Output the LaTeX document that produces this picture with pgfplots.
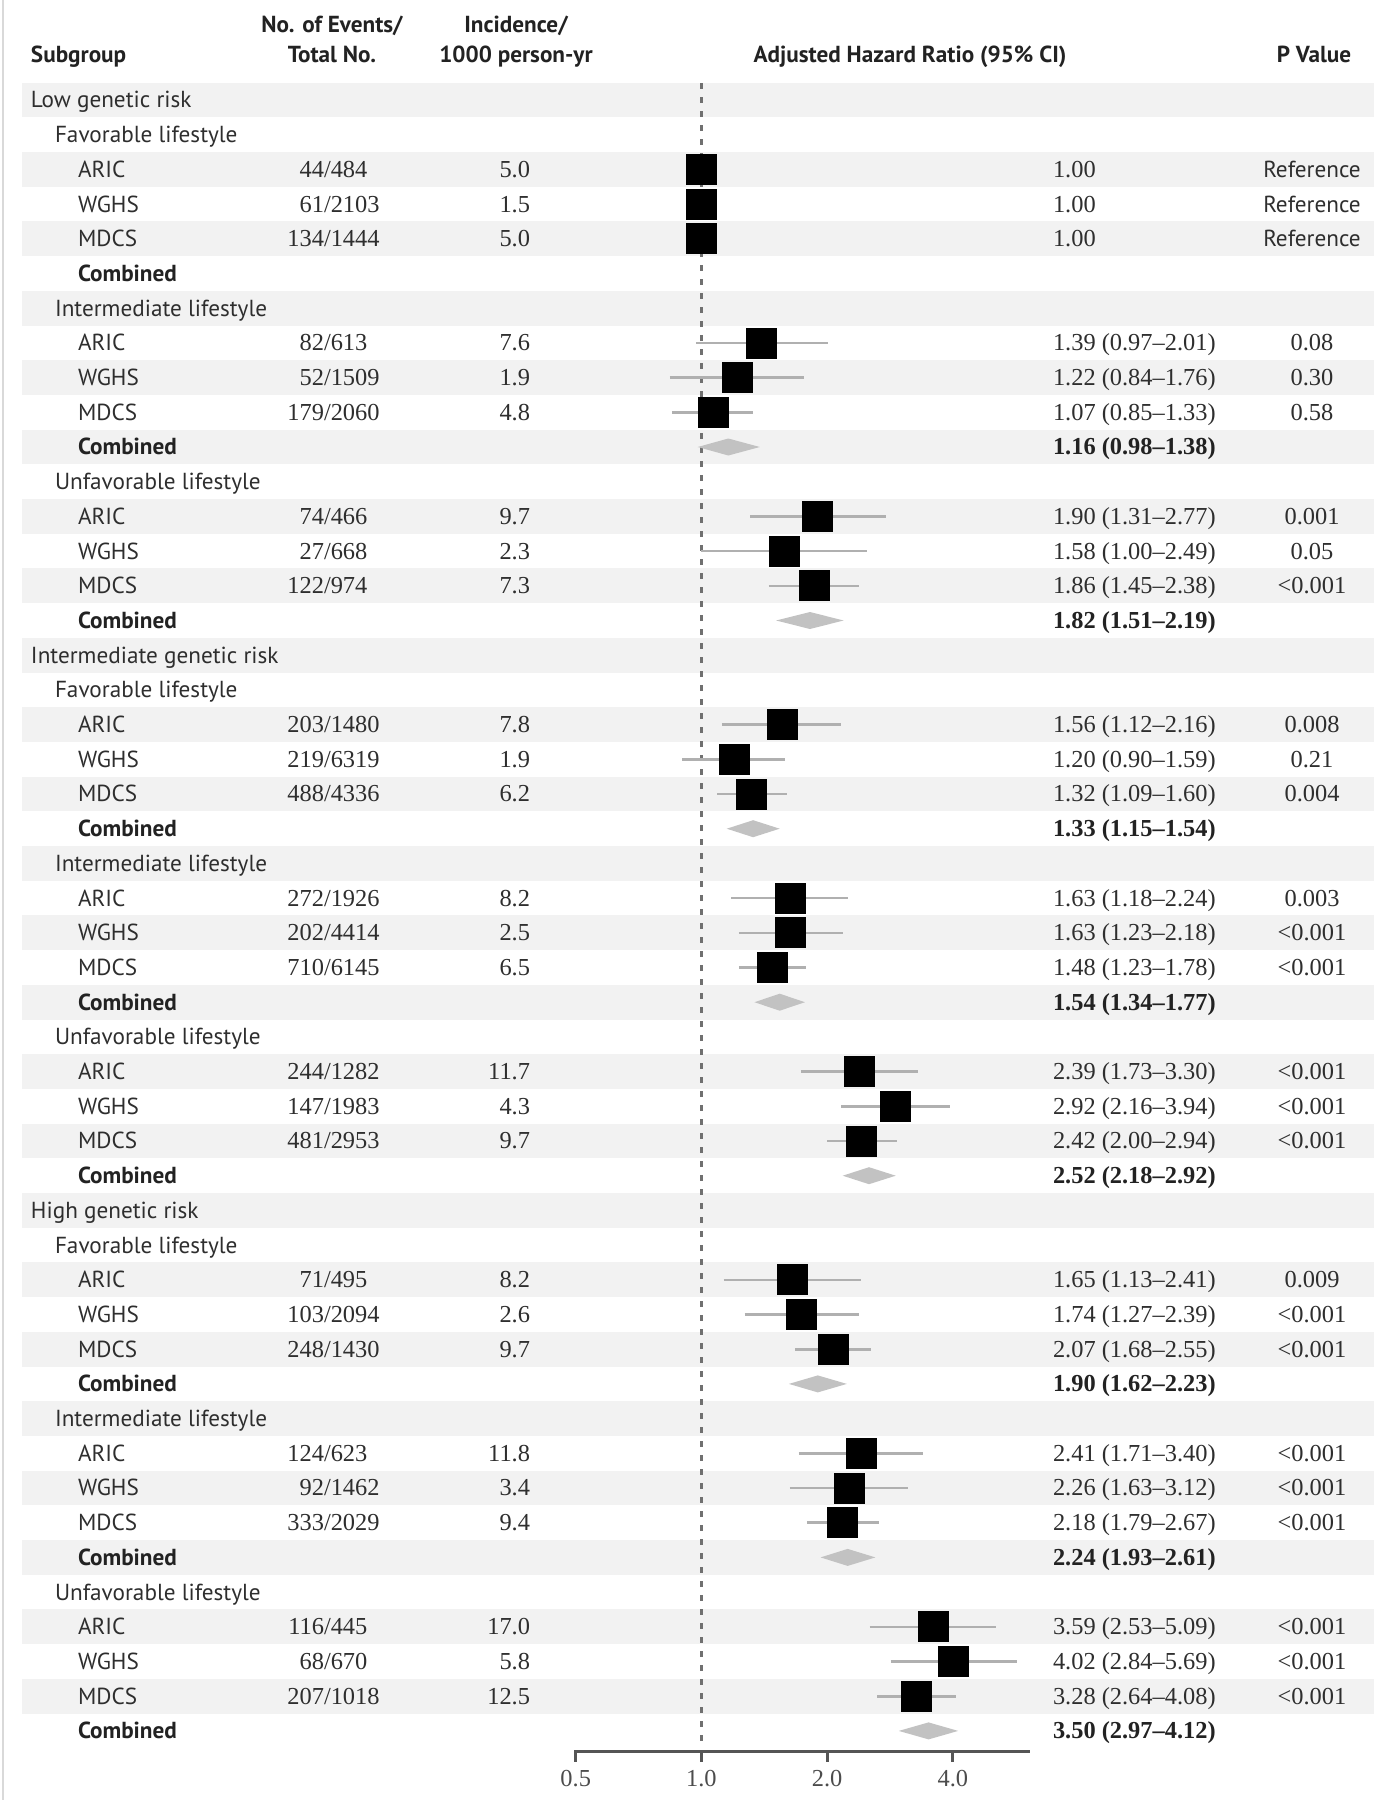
\documentclass[border=0pt]{standalone}
\usepackage{pgfplots}
\pgfplotsset{compat=1.18}
\usepackage{pgfplotstable}
\usepackage{fontspec}
\setmainfont{Liberation Serif}
\newfontfamily\sans{PT Sans}
\definecolor{band}{HTML}{F2F2F2}
\definecolor{txt}{HTML}{2E2E2E}
\definecolor{txtb}{HTML}{222222}
\definecolor{cigray}{HTML}{B0B0B0}
\definecolor{dia}{HTML}{C2C2C2}
\definecolor{axisgray}{HTML}{555555}
\definecolor{dashgray}{HTML}{707070}
\newcommand{\fs}{\fontsize{12.2}{14}\selectfont}
\newcommand{\fss}{\fontsize{11.6}{14}\selectfont}
\tikzset{t/.style={inner sep=0pt, outer sep=0pt, text=txt, font=\fs}}
\newcommand{\by}[1]{100+34.7*#1+8}
% row, label, events, total, incidence, HR text, P
\newcommand{\study}[7]{%
 \node[t,anchor=base west,font=\fss\sans] at (78,{\by{#1}}) {#2};
 \node[t,anchor=base east] at (324,{\by{#1}}) {#3};
 \node[t,anchor=base west] at (324,{\by{#1}}) {/#4};
 \node[t,anchor=base east] at (530,{\by{#1}}) {#5};
 \node[t,anchor=base west] at (1053,{\by{#1}}) {#6};
 \node[t,anchor=base] at (1312,{\by{#1}}) {#7};}
\newcommand{\comb}[2]{%
 \node[t,anchor=base west,font=\fss\sans\bfseries,text=txtb] at (78,{\by{#1}}) {Combined};
 \node[t,anchor=base west,font=\fs\bfseries,text=txtb] at (1053,{\by{#1}}) {#2};}
\newcommand{\grp}[2]{\node[t,anchor=base west,font=\fss\sans] at (31,{\by{#1}}) {#2};}
\newcommand{\life}[2]{\node[t,anchor=base west,font=\fss\sans] at (55,{\by{#1}}) {#2};}

\pgfplotstableread{
row hr
2 1.00
3 1.00
4 1.00
7 1.39
8 1.22
9 1.07
12 1.90
13 1.58
14 1.86
18 1.56
19 1.20
20 1.32
23 1.63
24 1.63
25 1.48
28 2.39
29 2.92
30 2.42
34 1.65
35 1.74
36 2.07
39 2.41
40 2.26
41 2.18
44 3.59
45 4.02
46 3.28
}\squaresdata

\begin{document}
\begin{tikzpicture}
% background axis in pixel units
\begin{axis}[at={(0pt,0pt)}, anchor=south west, scale only axis,
  width=687pt, height=900pt, xmin=0, xmax=1374, ymin=0, ymax=1800,
  y dir=reverse, hide axis, clip=false]
\pgfplotsinvokeforeach{0,2,...,46}{
  \fill[band] (axis cs:22,{100+34.7*#1-17.35}) rectangle (axis cs:1374,{100+34.7*#1+17.35});
}
\draw[black!15, line width=0.6pt] (axis cs:3,0) -- (axis cs:3,1800);
\end{axis}

% forest axis
\begin{axis}[at={(287.85pt,24.25pt)}, anchor=south west, scale only axis,
  width=226.15pt, height=834.25pt, xmode=log, log basis x=2,
  xmin=0.5, xmax=6.056, ymin=-0.49, ymax=47.594, y dir=reverse,
  hide axis, clip=false]
\draw[dashgray, line width=1.2pt, dash pattern=on 3pt off 4pt] (axis cs:1,-0.49) -- (axis cs:1,47.406);
% confidence intervals
\addplot[cigray, line width=1.3pt] coordinates {(0.97,7) (2.01,7)};
\addplot[cigray, line width=1.3pt] coordinates {(0.84,8) (1.76,8)};
\addplot[cigray, line width=1.3pt] coordinates {(0.85,9) (1.33,9)};
\addplot[cigray, line width=1.3pt] coordinates {(1.31,12) (2.77,12)};
\addplot[cigray, line width=1.3pt] coordinates {(1.00,13) (2.49,13)};
\addplot[cigray, line width=1.3pt] coordinates {(1.45,14) (2.38,14)};
\addplot[cigray, line width=1.3pt] coordinates {(1.12,18) (2.16,18)};
\addplot[cigray, line width=1.3pt] coordinates {(0.90,19) (1.59,19)};
\addplot[cigray, line width=1.3pt] coordinates {(1.09,20) (1.60,20)};
\addplot[cigray, line width=1.3pt] coordinates {(1.18,23) (2.24,23)};
\addplot[cigray, line width=1.3pt] coordinates {(1.23,24) (2.18,24)};
\addplot[cigray, line width=1.3pt] coordinates {(1.23,25) (1.78,25)};
\addplot[cigray, line width=1.3pt] coordinates {(1.73,28) (3.30,28)};
\addplot[cigray, line width=1.3pt] coordinates {(2.16,29) (3.94,29)};
\addplot[cigray, line width=1.3pt] coordinates {(2.00,30) (2.94,30)};
\addplot[cigray, line width=1.3pt] coordinates {(1.13,34) (2.41,34)};
\addplot[cigray, line width=1.3pt] coordinates {(1.27,35) (2.39,35)};
\addplot[cigray, line width=1.3pt] coordinates {(1.68,36) (2.55,36)};
\addplot[cigray, line width=1.3pt] coordinates {(1.71,39) (3.40,39)};
\addplot[cigray, line width=1.3pt] coordinates {(1.63,40) (3.12,40)};
\addplot[cigray, line width=1.3pt] coordinates {(1.79,41) (2.67,41)};
\addplot[cigray, line width=1.3pt] coordinates {(2.53,44) (5.09,44)};
\addplot[cigray, line width=1.3pt] coordinates {(2.84,45) (5.69,45)};
\addplot[cigray, line width=1.3pt] coordinates {(2.64,46) (4.08,46)};
% squares
\addplot[only marks, mark=square*, mark size=7.5pt, mark options={fill=black, draw=black}] table[x=hr, y=row] {\squaresdata};
% diamonds (combined)
\addplot[fill=dia, draw=none] coordinates {(0.98,10) (1.16,9.755) (1.38,10) (1.16,10.245)} -- cycle;
\addplot[fill=dia, draw=none] coordinates {(1.51,15) (1.82,14.755) (2.19,15) (1.82,15.245)} -- cycle;
\addplot[fill=dia, draw=none] coordinates {(1.15,21) (1.33,20.755) (1.54,21) (1.33,21.245)} -- cycle;
\addplot[fill=dia, draw=none] coordinates {(1.34,26) (1.54,25.755) (1.77,26) (1.54,26.245)} -- cycle;
\addplot[fill=dia, draw=none] coordinates {(2.18,31) (2.52,30.755) (2.92,31) (2.52,31.245)} -- cycle;
\addplot[fill=dia, draw=none] coordinates {(1.62,37) (1.90,36.755) (2.23,37) (1.90,37.245)} -- cycle;
\addplot[fill=dia, draw=none] coordinates {(1.93,42) (2.24,41.755) (2.61,42) (2.24,42.245)} -- cycle;
\addplot[fill=dia, draw=none] coordinates {(2.97,47) (3.50,46.755) (4.12,47) (3.50,47.245)} -- cycle;
% x axis
\draw[axisgray, line width=1.5pt, line cap=rect] (axis cs:0.5,47.594) -- (axis cs:6.056,47.594);
\pgfplotsinvokeforeach{0.5,1,2,4}{
  \draw[axisgray, line width=1.5pt] (axis cs:#1,47.594) -- ([yshift=-5pt]axis cs:#1,47.594);
}
\node[t, anchor=base, text=black!70] at ([yshift=-17.25pt]axis cs:0.5,47.594) {0.5};
\node[t, anchor=base, text=black!70] at ([yshift=-17.25pt]axis cs:1,47.594) {1.0};
\node[t, anchor=base, text=black!70] at ([yshift=-17.25pt]axis cs:2,47.594) {2.0};
\node[t, anchor=base, text=black!70] at ([yshift=-17.25pt]axis cs:4,47.594) {4.0};
\end{axis}

% text columns (pixel coordinates)
\begin{scope}[shift={(0pt,900pt)}, x=0.5pt, y=-0.5pt]
\node[t,anchor=base west,font=\fss\sans\bfseries,text=txtb] at (31,63) {Subgroup};
\node[t,anchor=base,font=\fss\sans\bfseries,text=txtb] at (332,33) {No. of Events/};
\node[t,anchor=base,font=\fss\sans\bfseries,text=txtb] at (332,63) {Total No.};
\node[t,anchor=base,font=\fss\sans\bfseries,text=txtb] at (516,33) {Incidence/};
\node[t,anchor=base,font=\fss\sans\bfseries,text=txtb] at (516,63) {1000 person-yr};
\node[t,anchor=base,font=\fss\sans\bfseries,text=txtb] at (910,63) {Adjusted Hazard Ratio (95\% CI)};
\node[t,anchor=base,font=\fss\sans\bfseries,text=txtb] at (1314,63) {P Value};

\grp{0}{Low genetic risk}
\life{1}{Favorable lifestyle}
\study{2}{ARIC}{44}{484}{5.0}{1.00}{\fss\sans Reference}
\study{3}{WGHS}{61}{2103}{1.5}{1.00}{\fss\sans Reference}
\study{4}{MDCS}{134}{1444}{5.0}{1.00}{\fss\sans Reference}
\node[t,anchor=base west,font=\fss\sans\bfseries,text=txtb] at (78,{\by{5}}) {Combined};
\life{6}{Intermediate lifestyle}
\study{7}{ARIC}{82}{613}{7.6}{1.39 (0.97--2.01)}{0.08}
\study{8}{WGHS}{52}{1509}{1.9}{1.22 (0.84--1.76)}{0.30}
\study{9}{MDCS}{179}{2060}{4.8}{1.07 (0.85--1.33)}{0.58}
\comb{10}{1.16 (0.98--1.38)}
\life{11}{Unfavorable lifestyle}
\study{12}{ARIC}{74}{466}{9.7}{1.90 (1.31--2.77)}{0.001}
\study{13}{WGHS}{27}{668}{2.3}{1.58 (1.00--2.49)}{0.05}
\study{14}{MDCS}{122}{974}{7.3}{1.86 (1.45--2.38)}{<0.001}
\comb{15}{1.82 (1.51--2.19)}
\grp{16}{Intermediate genetic risk}
\life{17}{Favorable lifestyle}
\study{18}{ARIC}{203}{1480}{7.8}{1.56 (1.12--2.16)}{0.008}
\study{19}{WGHS}{219}{6319}{1.9}{1.20 (0.90--1.59)}{0.21}
\study{20}{MDCS}{488}{4336}{6.2}{1.32 (1.09--1.60)}{0.004}
\comb{21}{1.33 (1.15--1.54)}
\life{22}{Intermediate lifestyle}
\study{23}{ARIC}{272}{1926}{8.2}{1.63 (1.18--2.24)}{0.003}
\study{24}{WGHS}{202}{4414}{2.5}{1.63 (1.23--2.18)}{<0.001}
\study{25}{MDCS}{710}{6145}{6.5}{1.48 (1.23--1.78)}{<0.001}
\comb{26}{1.54 (1.34--1.77)}
\life{27}{Unfavorable lifestyle}
\study{28}{ARIC}{244}{1282}{11.7}{2.39 (1.73--3.30)}{<0.001}
\study{29}{WGHS}{147}{1983}{4.3}{2.92 (2.16--3.94)}{<0.001}
\study{30}{MDCS}{481}{2953}{9.7}{2.42 (2.00--2.94)}{<0.001}
\comb{31}{2.52 (2.18--2.92)}
\grp{32}{High genetic risk}
\life{33}{Favorable lifestyle}
\study{34}{ARIC}{71}{495}{8.2}{1.65 (1.13--2.41)}{0.009}
\study{35}{WGHS}{103}{2094}{2.6}{1.74 (1.27--2.39)}{<0.001}
\study{36}{MDCS}{248}{1430}{9.7}{2.07 (1.68--2.55)}{<0.001}
\comb{37}{1.90 (1.62--2.23)}
\life{38}{Intermediate lifestyle}
\study{39}{ARIC}{124}{623}{11.8}{2.41 (1.71--3.40)}{<0.001}
\study{40}{WGHS}{92}{1462}{3.4}{2.26 (1.63--3.12)}{<0.001}
\study{41}{MDCS}{333}{2029}{9.4}{2.18 (1.79--2.67)}{<0.001}
\comb{42}{2.24 (1.93--2.61)}
\life{43}{Unfavorable lifestyle}
\study{44}{ARIC}{116}{445}{17.0}{3.59 (2.53--5.09)}{<0.001}
\study{45}{WGHS}{68}{670}{5.8}{4.02 (2.84--5.69)}{<0.001}
\study{46}{MDCS}{207}{1018}{12.5}{3.28 (2.64--4.08)}{<0.001}
\comb{47}{3.50 (2.97--4.12)}
\end{scope}
\pgfresetboundingbox
\path (0pt,0pt) rectangle (687pt,900pt);
\end{tikzpicture}
\end{document}
